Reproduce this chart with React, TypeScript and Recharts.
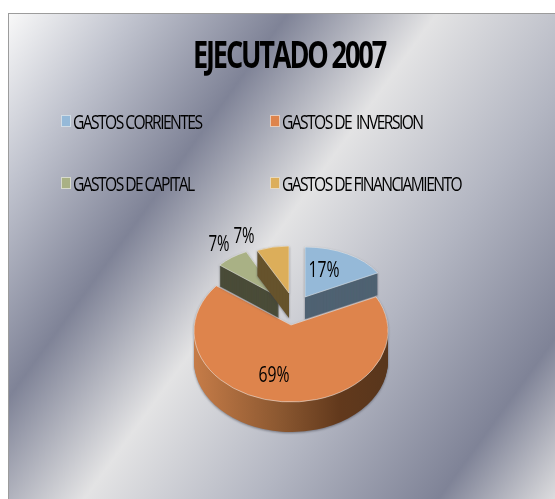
import React from "react";
import { PieChart, Pie, Legend } from "recharts";

const categories = ["GASTOS CORRIENTES", "GASTOS DE  INVERSION", "GASTOS DE CAPITAL", "GASTOS DE FINANCIAMIENTO"];
const values = [17, 69, 7, 7];
const topColors = ["#95b9d8", "#de844c", "#a9b185", "#dcae5a"];
const sideColors = ["#4f6272", "url(#orangeWall)", "#4a4c38", "#66532c"];
const percentLabels = ["17%", "69%", "7%", "7%"];

const chartData = categories.map((name, i) => ({ name, value: values[i], label: percentLabels[i] }));

// Perspective look of each slice, relative to the pie's centre.
const sliceLook = [
  { dx: 14, dy: -34, rx: 83, ry: 50, depth: 22, labelX: 19, labelY: -28 },
  { dx: 0, dy: 0, rx: 97, ry: 71, tipDy: -6, depth: 30, labelX: -17, labelY: 43 },
  { dx: -12, dy: -34, rx: 77, ry: 50, depth: 21, labelX: -60, labelY: -55 },
  { dx: -2, dy: -38, rx: 75, ry: 47, depth: 25, labelX: -45, labelY: -59 },
];

const W = 547;
const H = 486;
const CX = 278;
const CY = 313;
const FONT = "'Open Sans', sans-serif";

function slicePath(cx: number, cy: number, rx: number, ry: number, a0: number, a1: number, tipDy = 0) {
  const pt = (a: number) => {
    const r = (a * Math.PI) / 180;
    return [cx + rx * Math.cos(r), cy - ry * Math.sin(r)];
  };
  const [x0, y0] = pt(a0);
  const [x1, y1] = pt(a1);
  const large = Math.abs(a1 - a0) > 180 ? 1 : 0;
  return `M${cx},${cy + tipDy}L${x0},${y0}A${rx},${ry} 0 ${large} 1 ${x1},${y1}Z`;
}

function Slice3D(props: any) {
  const { cx, cy, startAngle, endAngle, index } = props;
  const look = sliceLook[index];
  const x = cx + look.dx;
  const y = cy + look.dy;
  const d = slicePath(x, y, look.rx, look.ry, startAngle, endAngle, look.tipDy || 0);
  const layers = [];
  for (let i = look.depth; i >= 1; i--) {
    layers.push(<path key={i} d={d} transform={`translate(0,${i})`} fill={sideColors[index]} />);
  }
  return (
    <g style={{ filter: "drop-shadow(0 1px 1px rgba(60,60,70,.55))" }}>
      {index === 1 && (
        <defs>
          <linearGradient id="orangeWall" gradientUnits="userSpaceOnUse" x1={x - look.rx} y1="0" x2={x + look.rx} y2="0">
            <stop offset="0" stopColor="#c67c48" />
            <stop offset="0.45" stopColor="#8a5730" />
            <stop offset="0.75" stopColor="#62391c" />
            <stop offset="1" stopColor="#58361c" />
          </linearGradient>
        </defs>
      )}
      {layers}
      <path d={d} fill={topColors[index]} stroke="rgba(235,235,235,.55)" strokeWidth={1} />
    </g>
  );
}

function renderLabel(props: any) {
  const { cx, cy, index } = props;
  const look = sliceLook[index];
  const text = chartData[index].label;
  const lx = cx + look.dx + look.labelX;
  const ly = cy + look.dy + look.labelY;
  return (
    <text
      transform={`translate(${lx},${ly}) scale(${text.length === 3 ? 0.75 : 0.72},1)`}
      textAnchor="middle"
      dominantBaseline="central"
      fontFamily={FONT}
      fontSize={21}
      fill="#000"
    >
      {text}
    </text>
  );
}

function LegendGrid() {
  const columns = [53, 262];
  const rows = [95, 157];
  return (
    <div style={{ position: "absolute", left: 0, top: 0, width: W, height: H, pointerEvents: "none" }}>
      {categories.map((name, i) => (
        <div
          key={name}
          style={{
            position: "absolute",
            left: columns[i % 2],
            top: rows[Math.floor(i / 2)],
            height: 26,
            display: "flex",
            alignItems: "center",
            fontFamily: FONT,
            fontSize: 20,
            letterSpacing: -2,
            whiteSpace: "pre",
            color: "#000",
          }}
        >
          <span
            style={{
              width: 8,
              height: 10,
              marginRight: 2,
              background: topColors[i],
              border: "1px solid rgba(235,235,235,.7)",
              display: "inline-block",
            }}
          />
          <span style={{ transform: "scaleX(0.78)", transformOrigin: "left center", display: "inline-block" }}>{name}</span>
        </div>
      ))}
    </div>
  );
}

export default function App() {
  return (
    <div
      style={{
        position: "absolute",
        left: 8,
        top: 13,
        width: W,
        height: H,
        overflow: "hidden",
        boxSizing: "border-box",
        borderTop: "1px solid #9c9c9c",
        borderLeft: "1px solid #9c9c9c",
        background:
          "linear-gradient(126deg,#f8f8f8 0%,#c0c3ce 14%,#7f8397 31%,#e3e3e4 47.6%,#b3b6c2 67%,#7f8397 87%,#dcdcde 100%)",
      }}
    >
      <div style={{ position: "absolute", left: -1, top: -1, width: W, height: H, filter: "blur(0.35px)" }}>
        <PieChart width={W} height={H}>
          <text
            x={281}
            y={40}
            textAnchor="middle"
            dominantBaseline="central"
            fontFamily={FONT}
            fontWeight={700}
            fontSize={38}
            letterSpacing={-3}
            textLength={192}
            lengthAdjust="spacingAndGlyphs"
            fill="#000"
          >
            EJECUTADO 2007
          </text>
          <Pie
            data={chartData}
            dataKey="value"
            nameKey="name"
            cx={CX}
            cy={CY}
            outerRadius={97}
            startAngle={90}
            endAngle={-270}
            paddingAngle={0}
            stroke="none"
            shape={Slice3D}
            label={renderLabel}
            labelLine={false}
            isAnimationActive={false}
          />
          <Legend content={<LegendGrid />} wrapperStyle={{ position: "absolute", left: 0, top: 0, width: W, height: H }} />
        </PieChart>
      </div>
    </div>
  );
}
